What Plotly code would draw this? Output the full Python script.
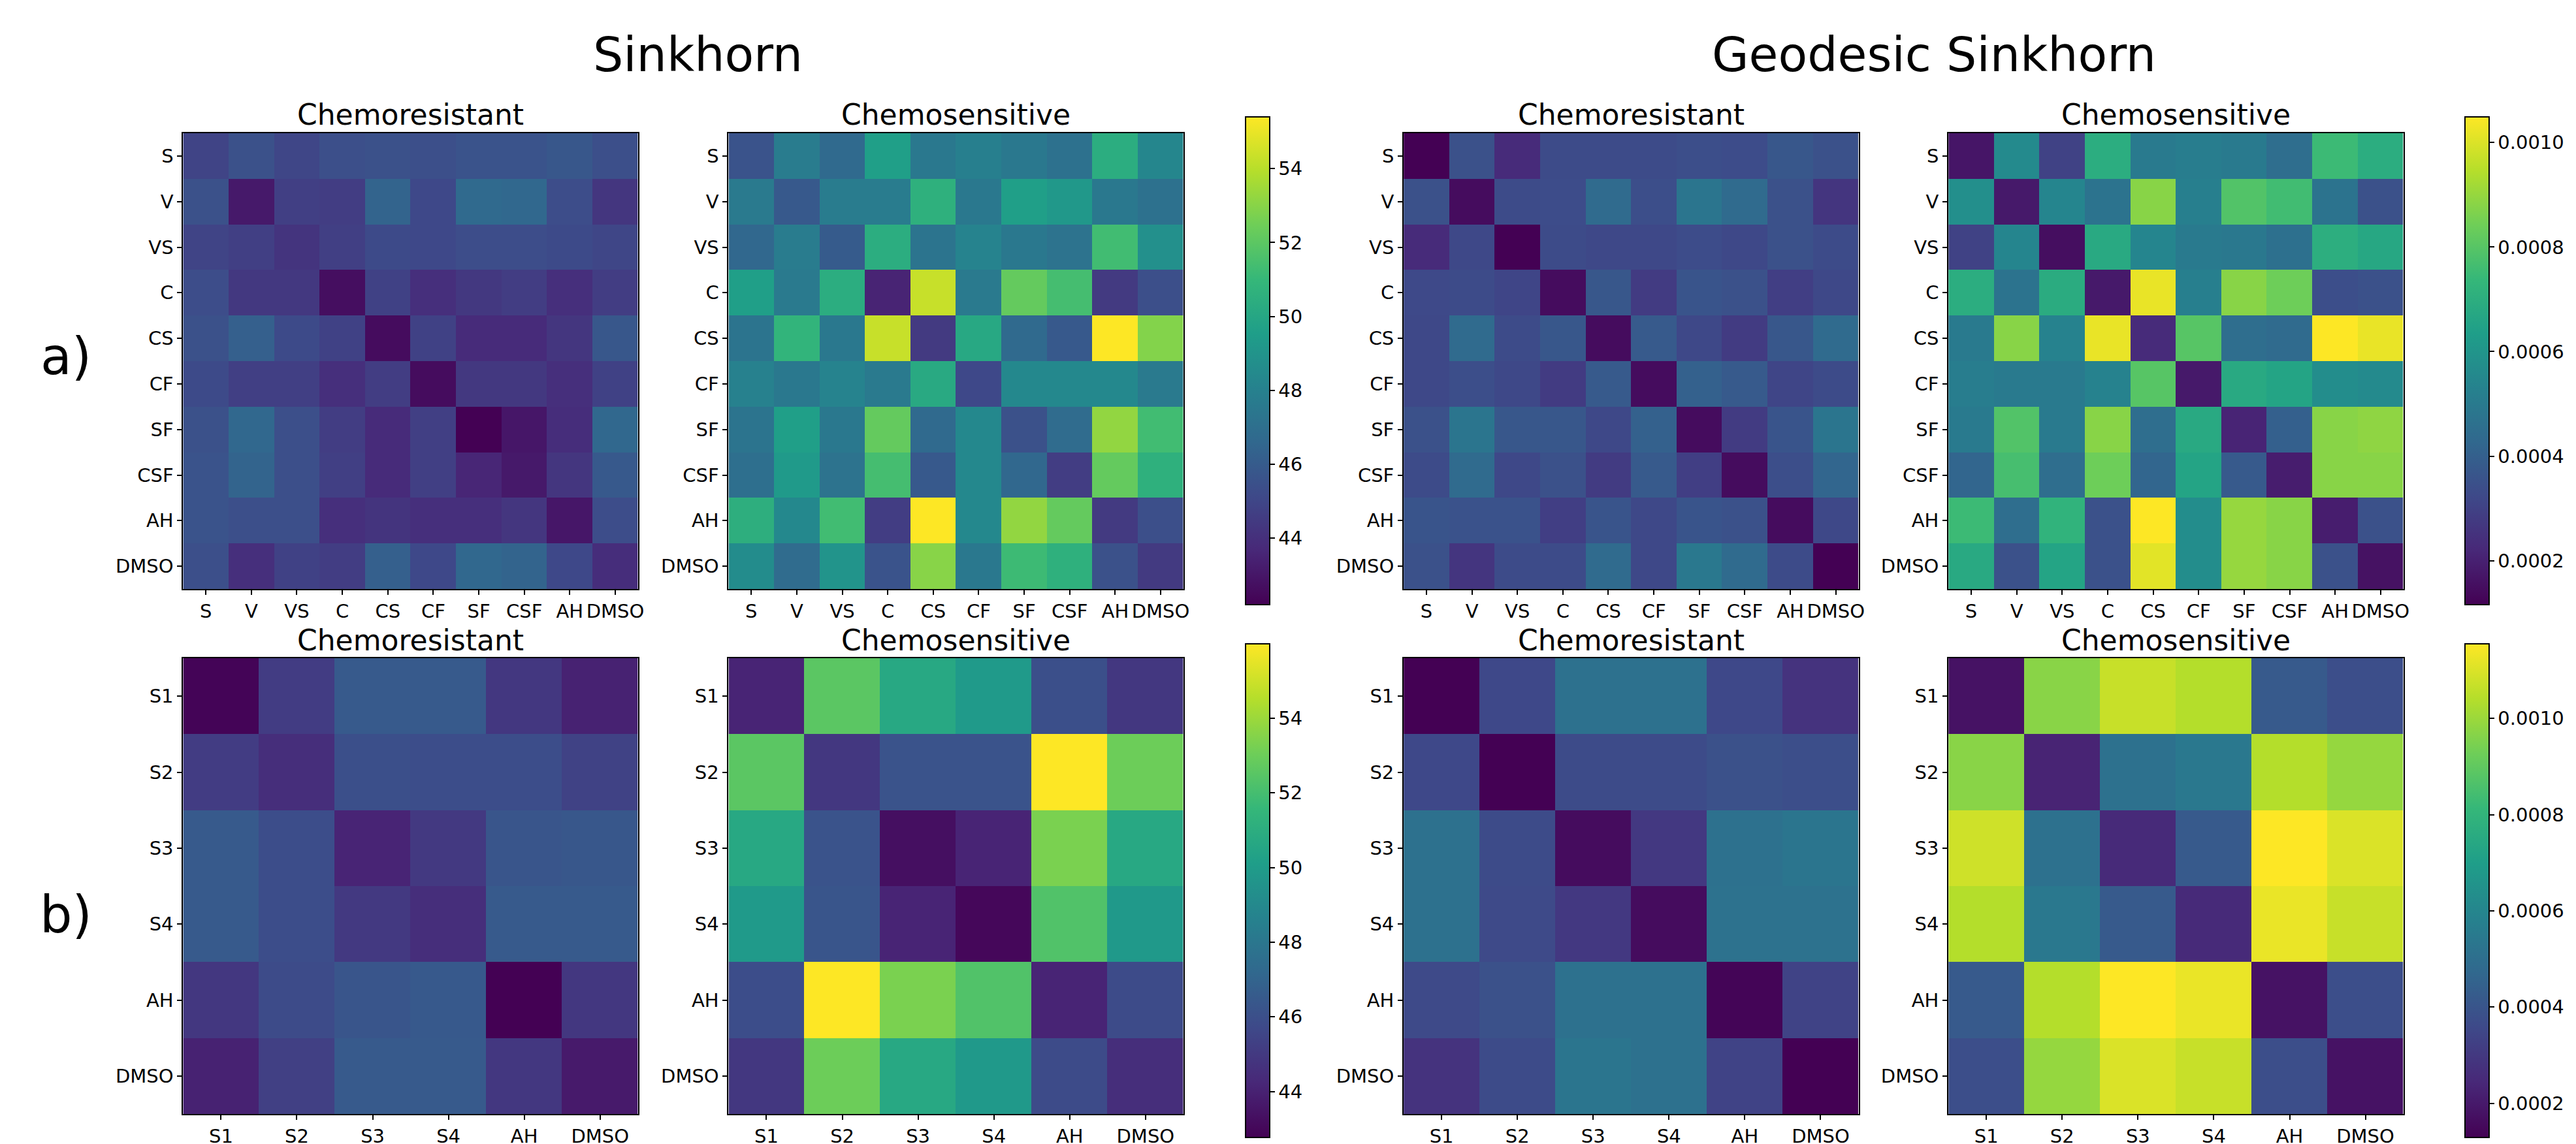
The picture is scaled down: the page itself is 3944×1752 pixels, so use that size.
import plotly.graph_objects as go

W, H = 3944, 1752
FONT = "DejaVu Sans"

labels_a = ["S", "V", "VS", "C", "CS", "CF", "SF", "CSF", "AH", "DMSO"]
labels_b = ["S1", "S2", "S3", "S4", "AH", "DMSO"]

# a) Sinkhorn distances
sink_resistant_a = [
    [44.9, 45.5, 45.0, 45.4, 45.5, 45.4, 45.6, 45.6, 45.8, 45.4],
    [45.5, 43.1, 44.7, 44.6, 46.4, 45.1, 46.7, 46.6, 45.3, 44.3],
    [44.9, 44.7, 44.2, 44.7, 45.2, 45.1, 45.3, 45.3, 45.2, 45.0],
    [45.3, 44.4, 44.4, 42.7, 44.8, 44.0, 44.4, 44.6, 44.0, 44.6],
    [45.5, 46.2, 45.2, 44.8, 42.6, 44.8, 43.8, 43.8, 44.3, 45.8],
    [45.2, 44.7, 44.7, 44.0, 44.6, 42.6, 44.4, 44.4, 44.0, 44.8],
    [45.5, 46.6, 45.4, 44.6, 43.8, 44.7, 42.2, 43.0, 43.9, 46.6],
    [45.6, 46.4, 45.4, 44.7, 43.8, 44.7, 43.6, 43.1, 44.3, 45.9],
    [45.6, 45.4, 45.4, 44.0, 44.2, 44.0, 44.0, 44.3, 43.0, 45.3],
    [45.4, 44.0, 44.8, 44.6, 46.2, 45.1, 46.6, 46.4, 45.1, 43.9],
]
sink_sensitive_a = [
    [45.6, 47.7, 46.7, 49.6, 47.5, 47.9, 47.5, 47.1, 50.4, 48.3],
    [47.6, 45.9, 47.7, 47.7, 50.6, 47.5, 49.6, 49.2, 47.5, 47.1],
    [46.6, 47.7, 46.0, 50.4, 47.3, 48.1, 47.5, 47.2, 51.3, 48.8],
    [49.6, 47.6, 50.4, 43.5, 54.3, 47.6, 52.2, 51.4, 44.45, 45.4],
    [47.3, 50.8, 47.5, 54.3, 44.45, 50.1, 46.7, 45.9, 55.4, 52.9],
    [48.0, 47.5, 48.1, 47.6, 50.2, 45.1, 48.4, 48.4, 48.4, 47.6],
    [47.3, 49.6, 47.5, 52.2, 46.7, 48.4, 45.5, 46.8, 53.2, 51.3],
    [47.0, 49.3, 47.2, 51.4, 45.9, 48.4, 46.6, 44.6, 52.2, 50.6],
    [50.5, 48.4, 51.3, 44.6, 55.4, 48.4, 53.2, 52.2, 44.45, 45.4],
    [48.6, 46.8, 49.0, 45.6, 53.0, 47.5, 51.2, 50.6, 45.5, 44.45],
]

# a) Geodesic Sinkhorn distances
geo_resistant_a = [
    [1.16e-4, 3.5e-4, 2.3e-4, 3.3e-4, 3.3e-4, 3.3e-4, 3.4e-4, 3.35e-4, 3.7e-4, 3.5e-4],
    [3.5e-4, 1.45e-4, 3.3e-4, 3.35e-4, 4.4e-4, 3.4e-4, 4.8e-4, 4.4e-4, 3.5e-4, 2.6e-4],
    [2.3e-4, 3.2e-4, 1.16e-4, 3.3e-4, 3.2e-4, 3.2e-4, 3.35e-4, 3.2e-4, 3.5e-4, 3.3e-4],
    [3.25e-4, 3.3e-4, 3.1e-4, 1.45e-4, 3.7e-4, 2.8e-4, 3.6e-4, 3.5e-4, 2.9e-4, 3.2e-4],
    [3.2e-4, 4.4e-4, 3.3e-4, 3.7e-4, 1.45e-4, 3.8e-4, 3.2e-4, 2.8e-4, 3.7e-4, 4.4e-4],
    [3.2e-4, 3.4e-4, 3.2e-4, 2.8e-4, 3.8e-4, 1.45e-4, 4.05e-4, 3.8e-4, 3.1e-4, 3.3e-4],
    [3.5e-4, 4.8e-4, 3.7e-4, 3.7e-4, 3.2e-4, 4.05e-4, 1.45e-4, 2.8e-4, 3.6e-4, 4.8e-4],
    [3.3e-4, 4.4e-4, 3.2e-4, 3.5e-4, 2.8e-4, 3.8e-4, 2.9e-4, 1.45e-4, 3.4e-4, 4.2e-4],
    [3.6e-4, 3.55e-4, 3.55e-4, 2.9e-4, 3.6e-4, 3.2e-4, 3.6e-4, 3.5e-4, 1.45e-4, 3.2e-4],
    [3.5e-4, 2.6e-4, 3.3e-4, 3.3e-4, 4.4e-4, 3.2e-4, 4.9e-4, 4.4e-4, 3.3e-4, 1.16e-4],
]
geo_sensitive_a = [
    [1.7e-4, 5.6e-4, 3.0e-4, 6.95e-4, 5.0e-4, 5.1e-4, 5.0e-4, 4.5e-4, 7.5e-4, 6.95e-4],
    [5.8e-4, 1.8e-4, 5.4e-4, 4.7e-4, 8.8e-4, 5.2e-4, 7.9e-4, 7.6e-4, 4.7e-4, 3.5e-4],
    [3.0e-4, 5.4e-4, 1.5e-4, 6.8e-4, 5.4e-4, 5.0e-4, 4.9e-4, 4.6e-4, 7.0e-4, 6.7e-4],
    [6.95e-4, 4.7e-4, 6.9e-4, 1.8e-4, 10.2e-4, 5.2e-4, 8.8e-4, 8.4e-4, 3.4e-4, 3.5e-4],
    [5.0e-4, 8.8e-4, 5.3e-4, 10.2e-4, 2.3e-4, 8.0e-4, 4.5e-4, 4.4e-4, 10.49e-4, 10.2e-4],
    [5.1e-4, 5.0e-4, 5.0e-4, 5.3e-4, 8.0e-4, 1.8e-4, 6.8e-4, 6.6e-4, 5.7e-4, 5.6e-4],
    [5.0e-4, 7.9e-4, 5.0e-4, 8.8e-4, 4.5e-4, 6.8e-4, 2.1e-4, 4.0e-4, 8.8e-4, 8.9e-4],
    [4.2e-4, 7.7e-4, 4.5e-4, 8.4e-4, 4.2e-4, 6.6e-4, 3.8e-4, 1.9e-4, 8.8e-4, 8.8e-4],
    [7.5e-4, 4.5e-4, 7.2e-4, 3.5e-4, 10.49e-4, 5.7e-4, 9.0e-4, 8.8e-4, 1.9e-4, 3.5e-4],
    [6.8e-4, 3.5e-4, 6.6e-4, 3.5e-4, 10.1e-4, 5.7e-4, 9.0e-4, 8.8e-4, 3.5e-4, 1.6e-4],
]

# b) Sinkhorn distances
sink_resistant_b = [
    [42.9, 45.15, 46.5, 46.5, 44.9, 44.0],
    [45.15, 44.5, 46.0, 45.9, 45.9, 45.4],
    [46.5, 45.9, 44.1, 45.0, 46.3, 46.35],
    [46.5, 45.9, 45.0, 44.5, 46.5, 46.5],
    [44.9, 45.8, 46.3, 46.45, 42.77, 44.9],
    [44.0, 45.3, 46.5, 46.5, 44.9, 43.7],
]
sink_sensitive_b = [
    [44.1, 52.55, 50.7, 49.9, 46.0, 44.9],
    [52.55, 44.9, 46.2, 46.2, 55.99, 53.0],
    [50.7, 46.2, 43.3, 44.1, 53.3, 50.7],
    [49.9, 46.3, 44.1, 43.0, 52.3, 49.85],
    [45.9, 55.99, 53.3, 52.3, 44.1, 45.8],
    [44.9, 53.0, 50.7, 49.85, 45.8, 44.5],
]

# b) Geodesic Sinkhorn distances
geo_resistant_b = [
    [1.29e-4, 3.55e-4, 5.1e-4, 5.1e-4, 3.55e-4, 2.8e-4],
    [3.55e-4, 1.29e-4, 3.65e-4, 3.65e-4, 3.85e-4, 3.75e-4],
    [5.1e-4, 3.65e-4, 1.6e-4, 3.0e-4, 5.1e-4, 5.3e-4],
    [5.1e-4, 3.6e-4, 3.0e-4, 1.6e-4, 5.15e-4, 5.15e-4],
    [3.6e-4, 3.85e-4, 5.1e-4, 5.1e-4, 1.4e-4, 3.35e-4],
    [2.8e-4, 3.65e-4, 5.3e-4, 5.1e-4, 3.35e-4, 1.29e-4],
]
geo_sensitive_b = [
    [1.8e-4, 9.7e-4, 10.7e-4, 10.4e-4, 4.2e-4, 3.75e-4],
    [9.7e-4, 2.3e-4, 5.1e-4, 5.4e-4, 10.4e-4, 9.9e-4],
    [10.8e-4, 5.1e-4, 2.5e-4, 4.2e-4, 11.55e-4, 11.0e-4],
    [10.4e-4, 5.4e-4, 4.2e-4, 2.5e-4, 11.25e-4, 10.7e-4],
    [4.2e-4, 10.4e-4, 11.55e-4, 11.25e-4, 1.8e-4, 3.75e-4],
    [3.75e-4, 9.9e-4, 11.0e-4, 10.7e-4, 3.75e-4, 1.8e-4],
]

sink_range_a = [42.2, 55.4]
geo_range_a = [1.16e-4, 10.49e-4]
sink_range_b = [42.77, 55.99]
geo_range_b = [1.29e-4, 11.55e-4]
sink_ticks = [44, 46, 48, 50, 52, 54]
geo_ticks = [0.0002, 0.0004, 0.0006, 0.0008, 0.0010]


def fx(px):
    return px / W


def fy(px):
    return 1 - px / H


def colorbar(x_px, top_px, bottom_px, tickvals, fmt):
    return dict(
        x=fx(x_px), xanchor="left", xpad=0,
        y=fy((top_px + bottom_px) / 2), yanchor="middle", ypad=0,
        len=(bottom_px - top_px) / H, lenmode="fraction",
        thickness=37, thicknessmode="pixels",
        outlinewidth=2, outlinecolor="black",
        ticks="outside", ticklen=7, tickwidth=2, tickcolor="black",
        tickvals=tickvals, tickformat=fmt,
        tickfont=dict(family=FONT, size=29, color="black"),
    )


col_left = [273, 1110, 2146, 2982]
row_top = [196, 1000]
SIZE = 698

panels = [
    (sink_resistant_a, labels_a, "coloraxis", 0, 0, "Chemoresistant"),
    (sink_sensitive_a, labels_a, "coloraxis", 1, 0, "Chemosensitive"),
    (geo_resistant_a, labels_a, "coloraxis2", 2, 0, "Chemoresistant"),
    (geo_sensitive_a, labels_a, "coloraxis2", 3, 0, "Chemosensitive"),
    (sink_resistant_b, labels_b, "coloraxis3", 0, 1, "Chemoresistant"),
    (sink_sensitive_b, labels_b, "coloraxis3", 1, 1, "Chemosensitive"),
    (geo_resistant_b, labels_b, "coloraxis4", 2, 1, "Chemoresistant"),
    (geo_sensitive_b, labels_b, "coloraxis4", 3, 1, "Chemosensitive"),
]

axis_style = dict(
    showgrid=False, zeroline=False, showline=True, mirror=True,
    linecolor="black", linewidth=2, ticks="outside", ticklen=7, tickwidth=2,
    tickcolor="black", tickangle=0, type="category",
    tickfont=dict(family=FONT, size=29, color="black"),
)

fig = go.Figure()
annotations = []
for i, (z, labels, cax, col, row, title) in enumerate(panels, start=1):
    sfx = "" if i == 1 else str(i)
    fig.add_trace(
        go.Heatmap(z=z, x=labels, y=labels, coloraxis=cax, xaxis="x" + sfx, yaxis="y" + sfx,
                   hovertemplate="%{y} / %{x}: %{z}<extra></extra>")
    )
    left = col_left[col]
    top = row_top[row]
    fig.update_layout(**{
        "xaxis" + sfx: dict(axis_style, domain=[fx(left), fx(left + SIZE)], anchor="y" + sfx),
        "yaxis" + sfx: dict(axis_style, domain=[fy(top + SIZE), fy(top)], anchor="x" + sfx,
                            autorange="reversed"),
    })
    annotations.append(dict(
        text=title, x=fx(left + SIZE / 2), y=fy(top - 28), xref="paper", yref="paper",
        xanchor="center", yanchor="middle", showarrow=False,
        font=dict(family=FONT, size=44, color="black"),
    ))

for text, x_px, y_px, size in [("Sinkhorn", 1063, 75, 73), ("Geodesic Sinkhorn", 2960, 75, 73),
                               ("a)", 93, 538, 78), ("b)", 93, 1393, 78)]:
    annotations.append(dict(
        text=text, x=fx(x_px), y=fy(y_px), xref="paper", yref="paper",
        xanchor="center", yanchor="middle", showarrow=False,
        font=dict(family=FONT, size=size, color="black"),
    ))

fig.update_layout(
    width=W, height=H,
    margin=dict(l=0, r=0, t=0, b=0),
    paper_bgcolor="white", plot_bgcolor="white",
    font=dict(family=FONT, color="black"),
    annotations=annotations,
    coloraxis=dict(colorscale="Viridis", cmin=sink_range_a[0], cmax=sink_range_a[1],
                   colorbar=colorbar(1903, 171, 918, sink_ticks, "d")),
    coloraxis2=dict(colorscale="Viridis", cmin=geo_range_a[0], cmax=geo_range_a[1],
                    colorbar=colorbar(3775, 171, 918, geo_ticks, ".4f")),
    coloraxis3=dict(colorscale="Viridis", cmin=sink_range_b[0], cmax=sink_range_b[1],
                    colorbar=colorbar(1903, 978, 1734, sink_ticks, "d")),
    coloraxis4=dict(colorscale="Viridis", cmin=geo_range_b[0], cmax=geo_range_b[1],
                    colorbar=colorbar(3775, 978, 1734, geo_ticks, ".4f")),
)

fig.write_html("out.html")
